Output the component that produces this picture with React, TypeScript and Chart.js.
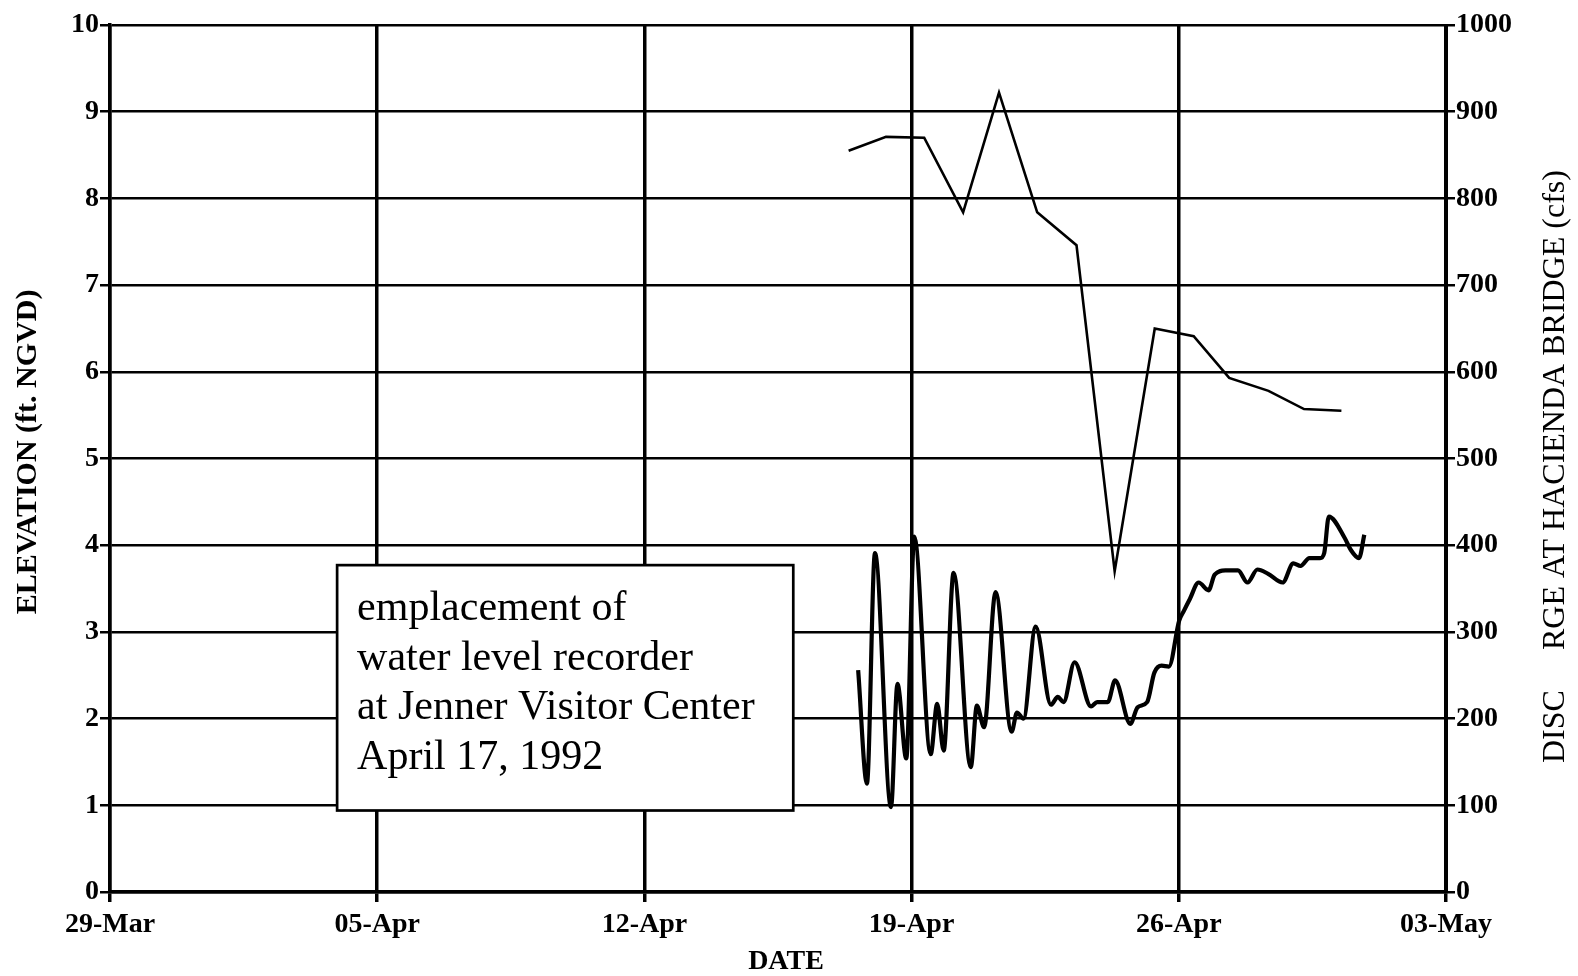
import { useEffect, useRef } from "react";
import { Chart, registerables } from "chart.js";

Chart.register(...registerables);

// x axis: days since 29-Mar-1992
const weekLabels = ["29-Mar", "05-Apr", "12-Apr", "19-Apr", "26-Apr", "03-May"];
const weekStep = 7;

// Discharge at Hacienda Bridge (cfs), daily
const dischargeDays = [19.35, 20.33, 21.33, 22.35, 23.29, 24.29, 25.32, 26.32, 27.37, 28.39, 29.32, 30.35, 31.28, 32.26];
const dischargeCfs = [855, 871, 870, 784, 922, 784, 746, 370, 650, 641, 593, 578, 557, 555];

// Water elevation at Jenner (ft NGVD)
const elevationDays = [
  19.6, 19.83, 20.04, 20.46, 20.63, 20.86, 21.07, 21.5, 21.67, 21.84, 22.1, 22.55, 22.71, 22.9, 23.2,
  23.62, 23.76, 23.93, 24.25, 24.65, 24.83, 24.98, 25.27, 25.7, 25.86, 26.14, 26.33, 26.73, 26.92,
  27.17, 27.36, 27.55, 27.74, 28.01, 28.13, 28.29, 28.52, 28.78, 28.94, 29.22, 29.55, 29.8, 30.06,
  30.34, 30.72, 31.0, 31.19, 31.42, 31.7, 31.81, 31.93, 32.35, 32.5, 32.72, 32.86,
];
const elevationFt = [
  2.56, 1.25, 3.91, 0.98, 2.4, 1.54, 4.1, 1.59, 2.17, 1.63, 3.68, 1.44, 2.15, 1.9, 3.46,
  1.85, 2.07, 2.0, 3.06, 2.16, 2.25, 2.19, 2.65, 2.14, 2.19, 2.19, 2.44, 1.94, 2.13,
  2.19, 2.53, 2.61, 2.6, 3.13, 3.24, 3.38, 3.57, 3.48, 3.66, 3.71, 3.71, 3.57, 3.72,
  3.67, 3.57, 3.79, 3.76, 3.85, 3.85, 3.91, 4.33, 4.08, 3.95, 3.85, 4.12,
];

// annotation box (in data units: days, ft)
const noteBoxDays = [5.95, 17.9];
const noteBoxElev = [0.94, 3.77];
const noteLines = ["emplacement of", "water level recorder", "at Jenner Visitor Center", "April 17, 1992"];

const xTitle = "DATE";
const leftTitle = "ELEVATION (ft. NGVD)";
const rightTitleParts = ["DISC", "RGE AT HACIENDA BRIDGE (cfs)"];

const FAMILY = "'Liberation Serif', 'Times New Roman', serif";

const decorPlugin = {
  id: "decor",
  beforeDatasetsDraw(chart: any) {
    const { ctx, scales } = chart;
    const x = scales.x;
    const y = scales.y;
    const l = x.getPixelForValue(noteBoxDays[0]);
    const r = x.getPixelForValue(noteBoxDays[1]);
    const t = y.getPixelForValue(noteBoxElev[1]);
    const b = y.getPixelForValue(noteBoxElev[0]);
    ctx.save();
    ctx.fillStyle = "#fff";
    ctx.fillRect(l, t, r - l, b - t);
    ctx.strokeStyle = "#000";
    ctx.lineWidth = 2.7;
    ctx.strokeRect(l, t, r - l, b - t);
    ctx.fillStyle = "#000";
    ctx.font = `42px ${FAMILY}`;
    ctx.textAlign = "left";
    ctx.textBaseline = "alphabetic";
    noteLines.forEach((line, i) => {
      ctx.fillText(line, l + 20, t + 55 + i * 49.5);
    });
    ctx.restore();
  },
  afterDraw(chart: any) {
    const { ctx, chartArea } = chart;
    ctx.save();
    ctx.fillStyle = "#000";
    // x title
    ctx.font = `bold 28px ${FAMILY}`;
    ctx.textAlign = "center";
    ctx.textBaseline = "middle";
    ctx.fillText(xTitle, (chartArea.left + chartArea.right) / 2 + 8, 962);
    // left title
    ctx.save();
    ctx.translate(28, 452);
    ctx.rotate(-Math.PI / 2);
    ctx.font = `bold 30px ${FAMILY}`;
    ctx.fillText(leftTitle, 0, 0);
    ctx.restore();
    // right title (reads bottom to top)
    ctx.font = `32px ${FAMILY}`;
    ctx.textAlign = "left";
    ctx.textBaseline = "middle";
    ctx.save();
    ctx.translate(1556, 763);
    ctx.rotate(-Math.PI / 2);
    ctx.fillText(rightTitleParts[0], 0, 0);
    ctx.restore();
    ctx.save();
    ctx.translate(1556, 650);
    ctx.rotate(-Math.PI / 2);
    ctx.fillText(rightTitleParts[1], 0, 0);
    ctx.restore();
    ctx.restore();
  },
};

export default function App() {
  const canvasRef = useRef<HTMLCanvasElement | null>(null);

  useEffect(() => {
    if (!canvasRef.current) return;
    const tickFont = { family: FAMILY, size: 28, weight: "bold" as const };
    const chart = new Chart(canvasRef.current, {
      type: "line",
      data: {
        datasets: [
          {
            label: "Discharge",
            data: dischargeDays.map((d, i) => ({ x: d, y: dischargeCfs[i] })),
            yAxisID: "y1",
            borderColor: "#000",
            borderWidth: 2.6,
            pointRadius: 0,
            tension: 0,
            fill: false,
          },
          {
            label: "Elevation",
            data: elevationDays.map((d, i) => ({ x: d, y: elevationFt[i] })),
            yAxisID: "y",
            borderColor: "#000",
            borderWidth: 4.2,
            pointRadius: 0,
            cubicInterpolationMode: "monotone",
            fill: false,
          },
        ],
      },
      options: {
        animation: false,
        responsive: true,
        maintainAspectRatio: false,
        layout: { padding: { top: 25, left: 0, right: 0, bottom: 0 } },
        plugins: { legend: { display: false }, tooltip: { enabled: false } },
        scales: {
          x: {
            type: "linear",
            min: 0,
            max: 35,
            afterFit: (s: any) => {
              s.height = 84;
            },
            ticks: {
              stepSize: weekStep,
              autoSkip: false,
              maxRotation: 0,
              color: "#000",
              font: tickFont,
              padding: 6,
              callback: (v: any) => weekLabels[Math.round(Number(v) / weekStep)] ?? "",
            },
            grid: { color: "#000", lineWidth: 3.5, tickLength: 10 },
            border: { color: "#000", width: 3.5 },
          },
          y: {
            position: "left",
            min: 0,
            max: 10,
            afterFit: (s: any) => {
              s.width = 110;
            },
            ticks: { stepSize: 1, color: "#000", font: tickFont, padding: 1, callback: (v: any) => String(v) },
            grid: { color: "#000", lineWidth: 2.5, tickLength: 10 },
            border: { color: "#000", width: 3.5 },
          },
          y1: {
            position: "right",
            min: 0,
            max: 1000,
            afterFit: (s: any) => {
              s.width = 132;
            },
            ticks: { stepSize: 100, color: "#000", font: tickFont, padding: 1, callback: (v: any) => String(v) },
            grid: { drawOnChartArea: false, color: "#000", lineWidth: 2.5, tickLength: 9 },
            border: { color: "#000", width: 3 },
          },
        },
      },
      plugins: [decorPlugin],
    });
    return () => chart.destroy();
  }, []);

  return (
    <div style={{ position: "fixed", left: 0, top: 0, width: 1578, height: 976, background: "#fff" }}>
      <canvas ref={canvasRef} />
    </div>
  );
}
